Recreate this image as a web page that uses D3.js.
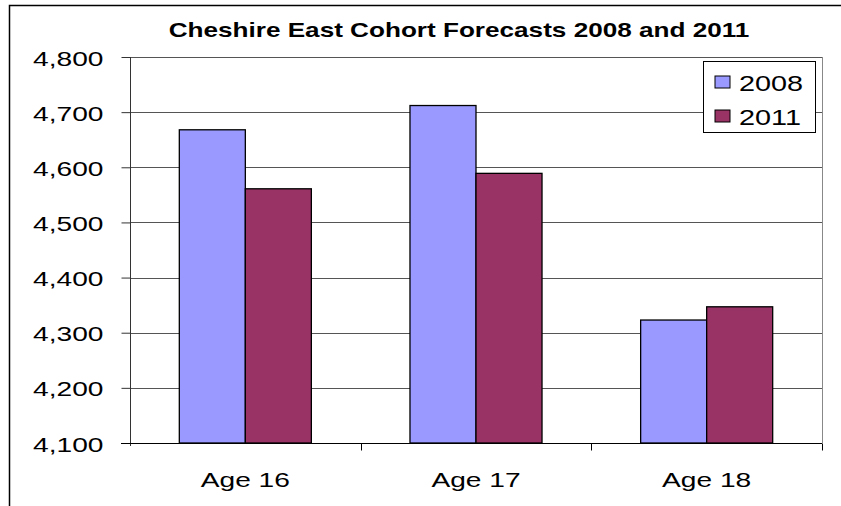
<!DOCTYPE html>
<html>
<head>
<meta charset="utf-8">
<script src="https://cdn.jsdelivr.net/npm/d3@7"></script>
<style>
  body { margin: 0; background: #fff; }
  text { font-family: Arial, "Liberation Sans", sans-serif; fill: #000; }
</style>
</head>
<body>
<svg id="chart"></svg>
<script>
var categories = ["Age 16", "Age 17", "Age 18"];
var seriesNames = ["2008", "2011"];
var values2008 = [4668, 4712, 4323];
var values2011 = [4561, 4589, 4347];
var yTicks = [4100, 4200, 4300, 4400, 4500, 4600, 4700, 4800];
var colors = ["#9999FF", "#993366"];

var width = 841, height = 506;
var stretch = 1.34; // text in the picture is stretched sideways
var plot = {left: 130, right: 822, top: 57, bottom: 443};

var svg = d3.select("#chart").attr("width", width).attr("height", height);

// outer chart border
svg.append("rect")
    .attr("x", 9.5).attr("y", 5.5)
    .attr("width", 900).attr("height", 600)
    .attr("fill", "none").attr("stroke", "#000").attr("stroke-width", 1.5);

var x = d3.scaleBand().domain(categories).range([plot.left, plot.right]).paddingInner(0).paddingOuter(0);
var x1 = d3.scaleBand().domain(seriesNames).range([0, x.bandwidth()]).paddingInner(0).paddingOuter(0.747);
var y = d3.scaleLinear().domain([4100, 4800]).range([plot.bottom, plot.top]);

// gridlines
svg.append("g").selectAll("line")
    .data(yTicks.slice(1))
    .enter().append("line")
    .attr("x1", plot.left).attr("x2", plot.right)
    .attr("y1", function(d) { return Math.round(y(d)) + 0.5; })
    .attr("y2", function(d) { return Math.round(y(d)) + 0.5; })
    .attr("stroke", "#555").attr("stroke-width", 1);

// plot right edge
svg.append("line")
    .attr("x1", plot.right + 0.5).attr("x2", plot.right + 0.5)
    .attr("y1", plot.top).attr("y2", plot.bottom)
    .attr("stroke", "#888");

// bars
var data = categories.map(function(c, i) {
    return {cat: c, vals: [values2008[i], values2011[i]]};
});
var groups = svg.append("g").selectAll("g")
    .data(data).enter().append("g")
    .attr("transform", function(d) { return "translate(" + x(d.cat) + ",0)"; });
groups.selectAll("rect")
    .data(function(d) { return d.vals.map(function(v, j) { return {s: seriesNames[j], v: v, j: j}; }); })
    .enter().append("rect")
    .attr("x", function(d) { return x1(d.s); })
    .attr("width", x1.bandwidth())
    .attr("y", function(d) { return y(d.v); })
    .attr("height", function(d) { return plot.bottom - y(d.v); })
    .attr("fill", function(d) { return colors[d.j]; })
    .attr("stroke", "#000").attr("stroke-width", 1.3);

// y axis
var yAxis = svg.append("g")
    .attr("transform", "translate(" + (plot.left + 0.5) + ",0)")
    .call(d3.axisLeft(y).tickValues(yTicks).tickSize(9).tickFormat(d3.format(",")));
yAxis.select(".domain").attr("stroke", "#333").attr("d", "M0," + plot.top + "V" + (plot.bottom + 3));
yAxis.selectAll(".tick line").attr("stroke", "#333");
yAxis.selectAll(".tick text").remove();
yAxis.selectAll(".tick").append("text")
    .attr("transform", "translate(-27,8) scale(" + stretch + ",1)")
    .attr("text-anchor", "end")
    .style("font-size", "21px")
    .text(function(d) { return d3.format(",")(d); });

// x axis
var xAxis = svg.append("g")
    .attr("transform", "translate(0," + (plot.bottom + 0.5) + ")");
xAxis.append("line")
    .attr("x1", plot.left - 9).attr("x2", plot.right)
    .attr("stroke", "#000");
xAxis.selectAll(".sep")
    .data(categories.slice(1).concat(["end"]))
    .enter().append("line")
    .attr("x1", function(d, i) { return Math.round(plot.left + x.bandwidth() * (i + 1)) + 0.5; })
    .attr("x2", function(d, i) { return Math.round(plot.left + x.bandwidth() * (i + 1)) + 0.5; })
    .attr("y1", 0).attr("y2", 7)
    .attr("stroke", "#000");
xAxis.selectAll(".cat")
    .data(categories)
    .enter().append("text")
    .attr("transform", function(d) { return "translate(" + (x(d) + x.bandwidth() / 2) + ",43) scale(" + stretch + ",1)"; })
    .attr("text-anchor", "middle")
    .style("font-size", "21px")
    .text(function(d) { return d; });

// title
svg.append("text")
    .attr("transform", "translate(459,37) scale(" + stretch + ",1)")
    .attr("text-anchor", "middle")
    .style("font-size", "19.5px").style("font-weight", "bold")
    .text("Cheshire East Cohort Forecasts 2008 and 2011");

// legend
var legend = svg.append("g").attr("transform", "translate(703,61)");
legend.append("rect")
    .attr("x", 0.5).attr("y", 0.5).attr("width", 112).attr("height", 71)
    .attr("fill", "#fff").attr("stroke", "#000").attr("stroke-width", 1);
var item = legend.selectAll(".item")
    .data(seriesNames).enter().append("g")
    .attr("transform", function(d, i) { return "translate(12," + (15 + i * 34) + ")"; });
item.append("rect")
    .attr("width", 15).attr("height", 12)
    .attr("fill", function(d, i) { return colors[i]; })
    .attr("stroke", "#000").attr("stroke-width", 1);
item.append("text")
    .attr("transform", "translate(24,14.5) scale(" + stretch + ",1)")
    .style("font-size", "21.5px")
    .text(function(d) { return d; });
</script>
</body>
</html>
